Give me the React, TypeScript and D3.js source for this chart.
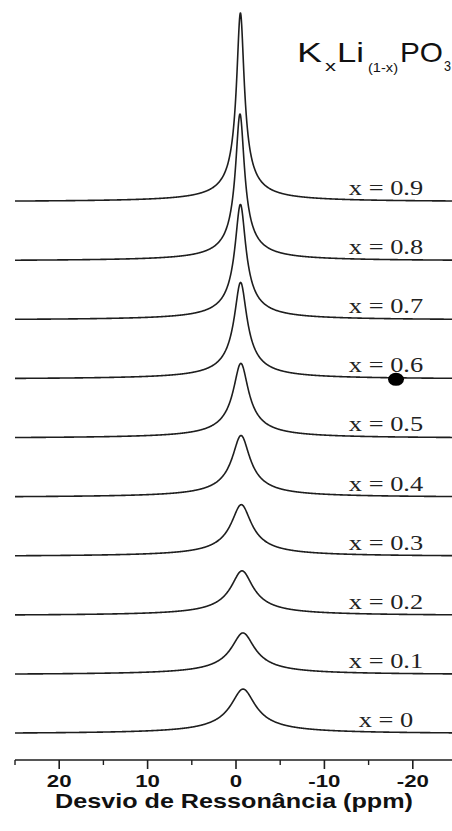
import React from "react";
import * as d3 from "d3";

// 31P NMR spectra of KxLi(1-x)PO3 glasses, stacked by composition
const compositions = [0, 0.1, 0.2, 0.3, 0.4, 0.5, 0.6, 0.7, 0.8, 0.9];
// peak position (ppm), peak height (stack units, 100 = one offset step), linewidth FWHM (ppm)
const peakShift = [-0.8, -0.79, -0.68, -0.6, -0.57, -0.55, -0.52, -0.5, -0.45, -0.5];
const peakHeight = [76, 71, 76, 88, 105, 127, 164, 196, 249, 320];
const peakWidth = [3.9, 3.7, 3.5, 3.2, 2.8, 2.4, 2.0, 1.7, 1.4, 1.2];
// Pearson VII shape exponent (1 = Lorentzian)
const shapeExponent = 0.65;

const majorTicks = [20, 10, 0, -10, -20];
const minorTicks = [25, 15, 5, -5, -15];

// highlighted point on the x = 0.6 trace
const markerPpm = -18.1;
const markerSeries = 6;

const W = 452;
const H = 831;

const x = d3.scaleLinear().domain([25, -25]).range([15, 457]);
const y = d3.scaleLinear().domain([0, 900]).range([734, 202]);
const offset = 100;

const ppmGrid = d3.range(25, -25.001, -0.04);

function pearson(ppm: number, c: number, h: number, fwhm: number, m: number) {
  const a = fwhm / 2 / Math.sqrt(Math.pow(2, 1 / m) - 1);
  const d = (ppm - c) / a;
  return h * Math.pow(1 + d * d, -m);
}

// formula pieces: text, left edge, right edge, baseline, font size
const formulaParts: [string, number, number, number, number][] = [
  ["K", 297, 322, 62, 28],
  ["x", 325, 336, 71, 15],
  ["Li", 337, 364, 62, 28],
  ["(1-x)", 368, 398, 72, 13],
  ["PO", 400, 443, 62, 28],
  ["3", 444, 451, 71, 15],
];

export default function App() {
  const line = d3
    .line<[number, number]>()
    .x((d) => x(d[0]))
    .y((d) => y(d[1]));

  const ink = "#1e1e1e";
  const axisY = 760;

  return (
    <svg
      width={W}
      height={H}
      style={{ position: "absolute", left: 0, top: 0, background: "#fff" }}
    >
      {compositions.map((c, i) => {
        const pts: [number, number][] = ppmGrid.map((p) => [
          p,
          i * offset +
            pearson(p, peakShift[i], peakHeight[i], peakWidth[i], shapeExponent),
        ]);
        return (
          <path
            key={"s" + c}
            d={line(pts) || ""}
            fill="none"
            stroke={ink}
            strokeWidth={1.6}
            strokeLinejoin="round"
          />
        );
      })}

      {compositions.map((c, i) => {
        const by = y(i * offset) - 7;
        return (
          <text
            key={"l" + c}
            transform={`translate(386,${by}) scale(1.32,1)`}
            textAnchor="middle"
            fontFamily="'Liberation Serif', 'Times New Roman', serif"
            fontSize={20}
            fill="#222"
          >
            {`x = ${c}`}
          </text>
        );
      })}

      <ellipse
        cx={x(markerPpm)}
        cy={y(markerSeries * offset)}
        rx={8}
        ry={6.5}
        fill="#000"
      />

      {/* formula */}
      {formulaParts.map(([s, x0, x1, by, fs]) => (
        <text
          key={"f" + s}
          x={x0}
          y={by}
          textLength={x1 - x0}
          lengthAdjust="spacingAndGlyphs"
          fontFamily="'Liberation Sans', Arial, sans-serif"
          fontSize={fs}
          fill="#111"
        >
          {s}
        </text>
      ))}

      {/* x axis */}
      <line x1={x(25)} x2={W} y1={axisY} y2={axisY} stroke={ink} strokeWidth={1.6} />
      {majorTicks.map((t) => (
        <line
          key={"M" + t}
          x1={x(t)}
          x2={x(t)}
          y1={axisY}
          y2={axisY + 9}
          stroke={ink}
          strokeWidth={1.6}
        />
      ))}
      {minorTicks.map((t) => (
        <line
          key={"m" + t}
          x1={x(t)}
          x2={x(t)}
          y1={axisY}
          y2={axisY + 5}
          stroke={ink}
          strokeWidth={1.4}
        />
      ))}
      {majorTicks.map((t) => (
        <text
          key={"t" + t}
          transform={`translate(${x(t)},787) scale(1.35,1)`}
          textAnchor="middle"
          fontFamily="'Liberation Sans', Arial, sans-serif"
          fontWeight="bold"
          fontSize={16.5}
          fill="#111"
        >
          {t}
        </text>
      ))}
      <text
        x={234}
        y={808}
        textAnchor="middle"
        textLength={358}
        lengthAdjust="spacingAndGlyphs"
        fontFamily="'Liberation Sans', Arial, sans-serif"
        fontWeight="bold"
        fontSize={20.5}
        fill="#111"
      >
        Desvio de Ressonância (ppm)
      </text>
    </svg>
  );
}
